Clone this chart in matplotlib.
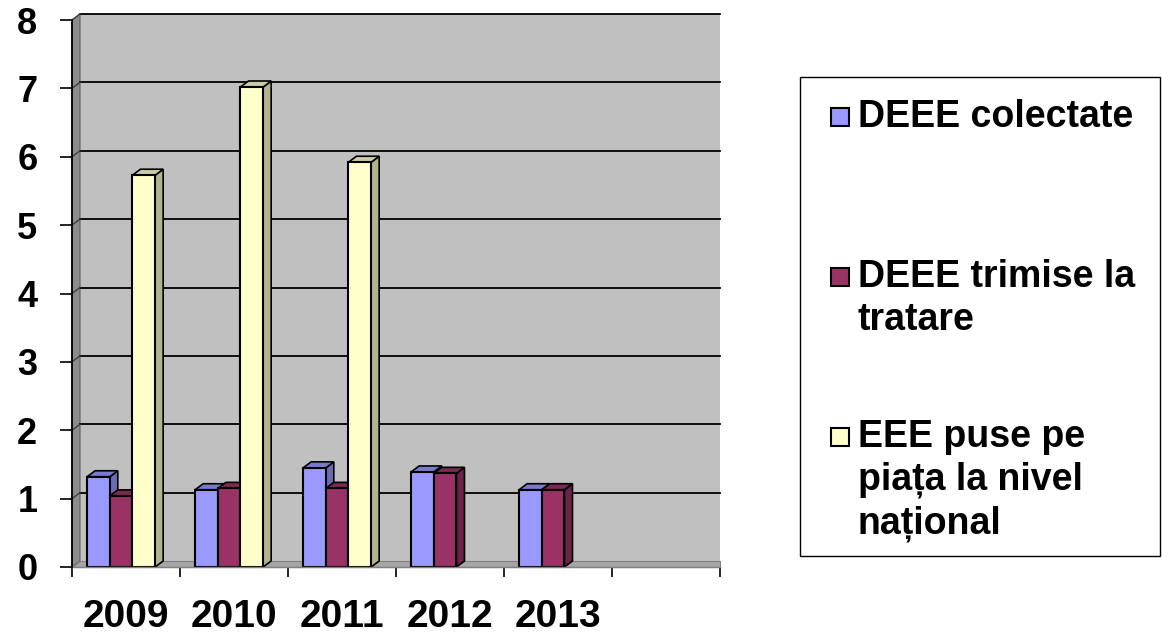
import numpy as np
import matplotlib
matplotlib.use("Agg")
import matplotlib.pyplot as plt
from matplotlib.patches import Polygon, Rectangle

plt.rcParams['font.family'] = ['Liberation Sans', 'DejaVu Sans']
plt.rcParams['font.weight'] = 'bold'

# ---- data ----
years = ["2009", "2010", "2011", "2012", "2013", ""]
series_names = ["DEEE colectate", "DEEE trimise la\ntratare", "EEE puse pe\npiața la nivel\nnațional"]
deee_colectate = [1.32, 1.13, 1.45, 1.39, 1.13, np.nan]
deee_trimise = [1.04, 1.15, 1.15, 1.37, 1.13, np.nan]
eee_puse = [5.73, 7.02, 5.92, np.nan, np.nan, np.nan]
series_values = [deee_colectate, deee_trimise, eee_puse]
yticks = [0, 1, 2, 3, 4, 5, 6, 7, 8]

face_colors = ["#9999FF", "#993366", "#FFFFCC"]
side_colors = ["#6B6BB3", "#6B2447", "#B3B38F"]
top_colors = ["#7A7ACC", "#7A2952", "#CCCCA3"]

W, H = 1162, 634
fig = plt.figure(figsize=(W / 100, H / 100), dpi=100)
ax = fig.add_axes([72 / W, 1 - 567 / H, 648 / W, 547 / H])
n = len(years)
ax.set_xlim(0, n)
ax.set_ylim(0, 8)
ax.set_facecolor("none")

dx = 8 / 108.0
dy = 6 / 68.4

# walls
ax.add_patch(Polygon([(dx, dy), (n, dy), (n, 8 + dy), (dx, 8 + dy)], closed=True,
                     facecolor="#C0C0C0", edgecolor="none", zorder=0, clip_on=False))
ax.add_patch(Polygon([(0, 0), (dx, dy), (dx, 8 + dy), (0, 8)], closed=True,
                     facecolor="#8C8C8C", edgecolor="#606060", lw=0.8, zorder=0.5, clip_on=False))
ax.add_patch(Polygon([(0, 0), (n, 0), (n, dy), (dx, dy)], closed=True,
                     facecolor="#A6A6A6", edgecolor="#808080", lw=0.8, zorder=0.5, clip_on=False))
for v in yticks[1:]:
    ax.plot([dx, n], [v + dy, v + dy], color="black", lw=1.3, zorder=1, clip_on=False)
    ax.plot([0, dx], [v, v + dy], color="#404040", lw=1.0, zorder=1, clip_on=False)

# bars
bw = 0.21
z = 2
for i in range(n):
    for j, vals in enumerate(series_values):
        v = vals[i]
        if v is None or np.isnan(v):
            continue
        x0 = i + 0.14 + j * bw
        x1 = x0 + bw
        ax.add_patch(Polygon([(x1, 0), (x1 + dx, dy), (x1 + dx, v + dy), (x1, v)], closed=True,
                             facecolor=side_colors[j], edgecolor="black", lw=1.2, zorder=z))
        ax.add_patch(Polygon([(x0, v), (x1, v), (x1 + dx, v + dy), (x0 + dx, v + dy)], closed=True,
                             facecolor=top_colors[j], edgecolor="black", lw=1.2, zorder=z))
        ax.bar(x0, v, width=bw, align="edge", color=face_colors[j], edgecolor="black",
               linewidth=1.5, zorder=z + 0.1)
        z += 1

# axes / ticks
for s in ["top", "right", "bottom"]:
    ax.spines[s].set_visible(False)
ax.spines["left"].set_color("black")
ax.spines["left"].set_linewidth(1.3)
ax.spines["left"].set_zorder(50)
ax.plot([0, n], [0, 0], color="#808080", lw=1.0, zorder=49, clip_on=False)

ax.set_yticks(yticks)
ax.set_yticklabels([str(t) for t in yticks], fontsize=26, fontweight="bold")
ax.tick_params(axis="y", direction="out", length=9, width=1.2, pad=16)

ax.set_xticks(np.arange(0, n + 1))
ax.set_xticklabels([])
ax.tick_params(axis="x", which="major", direction="out", length=7, width=1.2)
ax.set_xticks(np.arange(n) + 0.5, minor=True)
ax.set_xticklabels(years, minor=True, fontsize=28, fontweight="bold")
ax.tick_params(axis="x", which="minor", length=0, pad=23)

# legend (manual box)
fig.patches.append(Rectangle((800 / W, 1 - 556 / H), 360 / W, 479 / H, transform=fig.transFigure,
                             facecolor="white", edgecolor="black", lw=1.0))
baselines = [[127], [287, 330], [447, 490, 533]]
for j, name in enumerate(series_names):
    lines = name.split("\n")
    b0 = baselines[j][0]
    fig.patches.append(Rectangle((831 / W, 1 - (b0 - 1) / H), 18 / W, 18 / H,
                                 transform=fig.transFigure, facecolor=face_colors[j],
                                 edgecolor="black", lw=1.5))
    for k, line in enumerate(lines):
        fig.text(858 / W, 1 - baselines[j][k] / H, line, fontsize=27, fontweight="bold",
                 va="baseline", ha="left")

fig.savefig("out.png", dpi=100)
